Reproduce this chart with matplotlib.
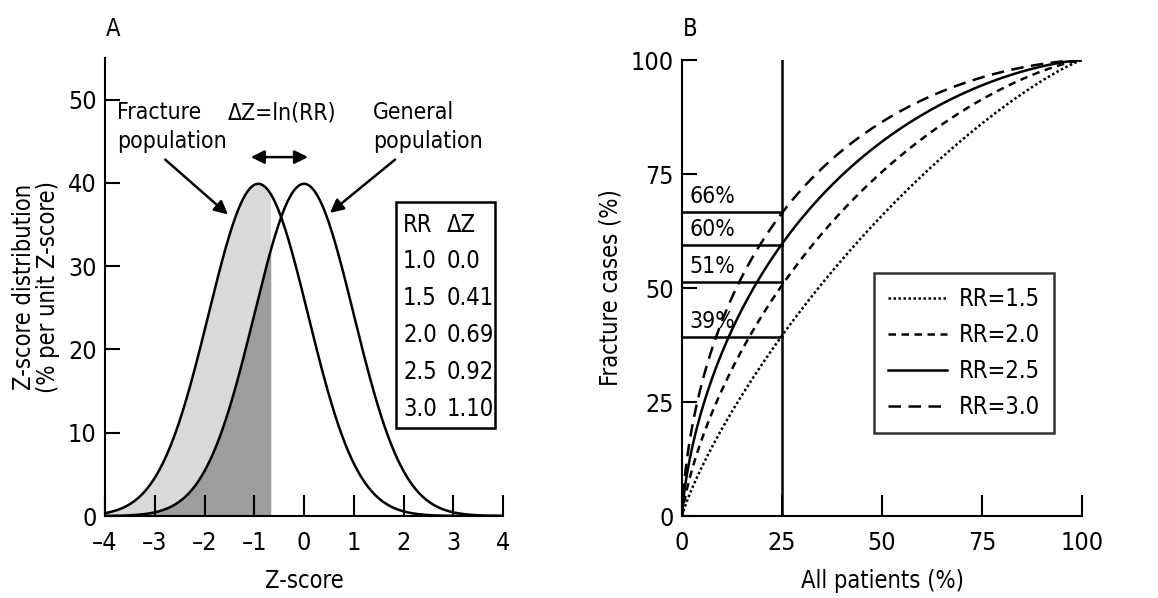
import math

import numpy as np
import matplotlib
matplotlib.use("Agg")
import matplotlib.pyplot as plt
from matplotlib import font_manager
from matplotlib.patches import Rectangle

# table in panel A
rr_labels = ["1.0", "1.5", "2.0", "2.5", "3.0"]
dz_values = [0.0, 0.41, 0.69, 0.92, 1.10]
dz_labels = ["0.0", "0.41", "0.69", "0.92", "1.10"]

# panel A shows the RR = 2.5 shift, cut at the 25th centile of the general population
shown_dz = 0.92
cutoff_z = -0.67

# panel B
legend_rr = ["1.5", "2.0", "2.5", "3.0"]
legend_dz = [0.41, 0.69, 0.92, 1.10]
cutoff_pct = 25
cases_pct = [39, 51, 60, 66]
case_lines = [39.2, 51.3, 59.4, 66.6]   # heights of the guide lines as drawn


# pick a narrow sans face if one is installed
names = {f.name for f in font_manager.fontManager.ttflist}
cond = [f for f in font_manager.fontManager.ttflist
        if f.name == "DejaVu Sans" and f.stretch == "condensed"]
if "Liberation Sans Narrow" in names:
    plt.rcParams["font.family"] = ["Liberation Sans Narrow", "DejaVu Sans"]
elif cond:
    plt.rcParams["font.family"] = ["DejaVu Sans"]
    plt.rcParams["font.stretch"] = "condensed"
else:
    plt.rcParams["font.family"] = ["Liberation Sans", "DejaVu Sans"]


def pdf(z):
    return np.exp(-z ** 2 / 2) / np.sqrt(2 * np.pi)


erf = np.vectorize(math.erf)


def cdf(z):
    return 0.5 * (1 + erf(z / np.sqrt(2)))


fig = plt.figure(figsize=(11.58, 5.98), dpi=100)
axA = fig.add_axes([0.0907, 0.1371, 0.3437, 0.7659])
axB = fig.add_axes([0.589, 0.1371, 0.3454, 0.7625])

FS = 17
lw = 1.8

# ---- panel A ----
z = np.linspace(-4, 4, 500)
gen = pdf(z) * 100
frac = pdf(z + shown_dz) * 100

zs = np.linspace(-4, cutoff_z, 200)
axA.fill_between(zs, 0, pdf(zs + shown_dz) * 100, color="#d9d9d9", lw=0)
axA.fill_between(zs, 0, pdf(zs) * 100, color="#9d9d9d", lw=0)
axA.plot(z, gen, color="black", lw=lw)
axA.plot(z, frac, color="black", lw=lw)

axA.set_xlim(-4, 4)
axA.set_ylim(0, 55)
axA.set_xticks(range(-4, 5))
axA.set_xticklabels([("\u2013%d" % -v) if v < 0 else str(v) for v in range(-4, 5)])
axA.set_yticks(range(0, 51, 10))

axA.text(-3.76, 49.8, "Fracture\npopulation", fontsize=16.5, va="top", ha="left",
         linespacing=1.3)
axA.text(1.39, 49.8, "General\npopulation", fontsize=16.5, va="top", ha="left",
         linespacing=1.3)
axA.text(-0.44, 49.8, "\u0394Z=ln(RR)", fontsize=16.5, va="top", ha="center")

arrow = dict(arrowstyle="-|>", color="black", lw=1.8, mutation_scale=20,
             shrinkA=0, shrinkB=0)
axA.annotate("", xy=(-1.53, 36.2), xytext=(-2.79, 42.8), arrowprops=arrow)
axA.annotate("", xy=(0.52, 36.4), xytext=(1.83, 42.8), arrowprops=arrow)
axA.annotate("", xy=(0.08, 43.1), xytext=(-1.07, 43.1),
             arrowprops=dict(arrowstyle="<|-|>", color="black", lw=1.8,
                             mutation_scale=20, shrinkA=0, shrinkB=0))

# table box
axA.add_patch(Rectangle((1.85, 10.6), 1.99, 27.1, fill=False, lw=1.8,
                        edgecolor="black", zorder=5))
row_y = 34.9
axA.text(1.99, row_y, "RR", fontsize=FS, va="center", ha="left")
axA.text(2.87, row_y, "\u0394Z", fontsize=FS, va="center", ha="left")
for i, (a, b) in enumerate(zip(rr_labels, dz_labels)):
    y = 30.6 - i * 4.45
    axA.text(1.99, y, a, fontsize=FS, va="center", ha="left")
    axA.text(2.87, y, b, fontsize=FS, va="center", ha="left")

axA.set_xlabel("Z-score", fontsize=FS, labelpad=10)
axA.set_ylabel("Z-score distribution\n(% per unit Z-score)", fontsize=FS,
               labelpad=6, linespacing=1.0)

# ---- panel B ----
styles = [(0, (1, 1)), (0, (3, 2.2)), "-", (0, (5, 3))]
zz = np.linspace(-6, 6, 800)
for lab, d, ls in zip(legend_rr, legend_dz, styles):
    axB.plot(cdf(zz) * 100, cdf(zz + d) * 100, color="black", lw=lw,
             ls=ls, label="RR=" + lab)

axB.plot([cutoff_pct, cutoff_pct], [0, 100], color="black", lw=lw)
for p, h in zip(cases_pct, case_lines):
    axB.plot([0, cutoff_pct], [h, h], color="black", lw=lw)
    axB.text(1.8, h + 1.0, "%d%%" % p, fontsize=16.5, va="bottom", ha="left")

axB.set_xlim(0, 100)
axB.set_ylim(0, 100)
axB.set_xticks(range(0, 101, 25))
axB.set_yticks(range(0, 101, 25))
axB.set_xlabel("All patients (%)", fontsize=FS, labelpad=10)
axB.set_ylabel("Fracture cases (%)", fontsize=FS, labelpad=6)

leg = axB.legend(loc="lower left", bbox_to_anchor=(0.48, 0.182), fontsize=FS,
                 frameon=True, fancybox=False, edgecolor="black",
                 handlelength=2.5, handletextpad=0.5, labelspacing=0.5,
                 borderpad=0.6, borderaxespad=0)
leg.get_frame().set_linewidth(1.8)

for ax in (axA, axB):
    for s in ("top", "right"):
        ax.spines[s].set_visible(False)
    for s in ("left", "bottom"):
        ax.spines[s].set_linewidth(1.5)
    ax.tick_params(axis="x", direction="in", length=15, width=1.5,
                   labelsize=18, pad=11)
    ax.tick_params(axis="y", direction="in", length=11, width=1.5,
                   labelsize=18, pad=6)

fig.text(0.098, 0.952, "A", fontsize=FS, ha="center", va="center")
fig.text(0.596, 0.952, "B", fontsize=FS, ha="center", va="center")

fig.savefig("out.png", dpi=100)
